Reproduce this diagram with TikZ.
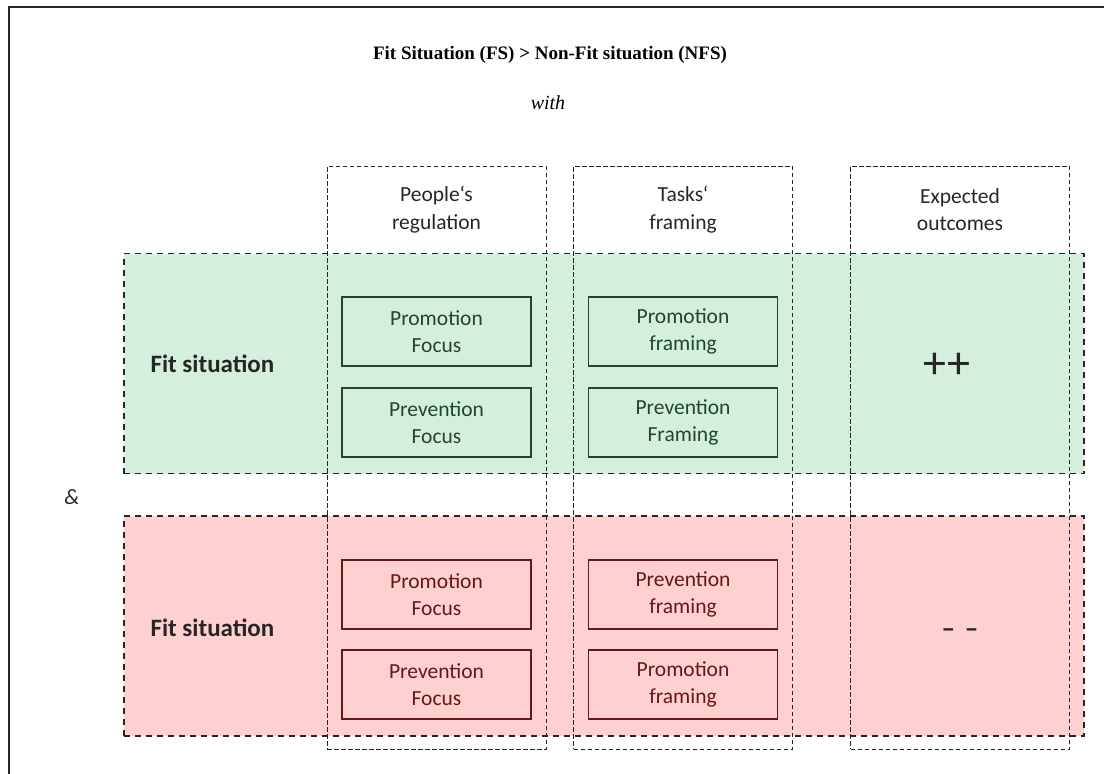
\documentclass[tikz,border=0pt]{standalone}
\usepackage{fontspec}
\setmainfont{Carlito}
\newfontfamily\titlefont{Liberation Serif}
\definecolor{bandgreen}{RGB}{212,240,220}
\definecolor{bandred}{RGB}{255,208,208}
\definecolor{boxgreen}{RGB}{30,72,42}
\definecolor{boxred}{RGB}{100,25,25}
\definecolor{ink}{RGB}{38,38,38}
\begin{document}
\begin{tikzpicture}[x=1pt,y=-1pt,
  frame/.style={draw=ink, line width=2pt},
  band/.style={draw=ink, line width=1.4pt, dash pattern=on 6pt off 5pt, minimum width=960pt, minimum height=220pt, inner sep=0pt},
  colbox/.style={draw=ink, line width=1pt, dash pattern=on 4.5pt off 2.5pt, minimum width=219pt, minimum height=583pt, inner sep=0pt},
  innerbox/.style={draw, line width=1.4pt, minimum width=189pt, minimum height=69pt, align=center, font=\fontsize{21.5}{27.5}\selectfont, inner sep=0pt},
  gbox/.style={innerbox, draw=boxgreen, text=boxgreen},
  rbox/.style={innerbox, draw=boxred, text=boxred},
  head/.style={align=center, font=\fontsize{21.5}{27.5}\selectfont, text=ink},
  rowlabel/.style={anchor=west, font=\fontsize{25}{28}\selectfont\bfseries, text=ink}]
\useasboundingbox (0,0) rectangle (1104,774);
% outer frame (left and top edges visible)
\coordinate (fbl) at (9,774);
\coordinate (ftl) at (9,7);
\coordinate (ftr) at (1104,7);
\draw[frame] (fbl) -- (ftl) -- (ftr);
% title
\node (title) at (550,55) {\titlefont\bfseries\fontsize{19}{22}\selectfont Fit Situation (FS) > Non-Fit situation (NFS)};
\node (with) at (548,103) {\titlefont\itshape\fontsize{20}{22}\selectfont with};
% bands
\node[band, fill=bandgreen] (fitband) at (604,363.5) {};
\node[band, fill=bandred] (nonfitband) at (604,626) {};
% columns
\node[colbox] (col1) at (436.5,457.5) {};
\node[colbox] (col2) at (683,457.5) {};
\node[colbox] (col3) at (960,457.5) {};
% headers
\node[head] (h1) at (436.5,209.5) {People‘s\\regulation};
\node[head] (h2) at (683,209.5) {Tasks‘\\framing};
\node[head] (h3) at (960,209.5) {Expected\\outcomes};
% fit situation boxes
\node[gbox] (g11) at (436.5,331.5) {Promotion\\Focus};
\node[gbox] (g12) at (436.5,422.5) {Prevention\\Focus};
\node[gbox] (g21) at (683,331.5) {Promotion\\framing};
\node[gbox] (g22) at (683,422.5) {Prevention\\Framing};
% non-fit boxes
\node[rbox] (r11) at (436.5,594.5) {Promotion\\Focus};
\node[rbox] (r12) at (436.5,684.5) {Prevention\\Focus};
\node[rbox] (r21) at (683,594.5) {Prevention\\framing};
\node[rbox] (r22) at (683,684.5) {Promotion\\framing};
% row labels
\node[rowlabel] (fitlabel) at (147,364) {Fit situation};
\node[rowlabel] (nonfitlabel) at (147,628) {Fit situation};
\node (amp) at (72,497) {\fontsize{22}{24}\selectfont\itshape\color{ink}\&};
% outcomes
\node (plus) at (947,366) {\fontsize{46}{48}\selectfont\color{ink}++};
\node (minus) at (960,633) {\fontsize{27}{28}\selectfont\bfseries\color{ink}–\hspace{10pt}–};
\end{tikzpicture}
\end{document}
